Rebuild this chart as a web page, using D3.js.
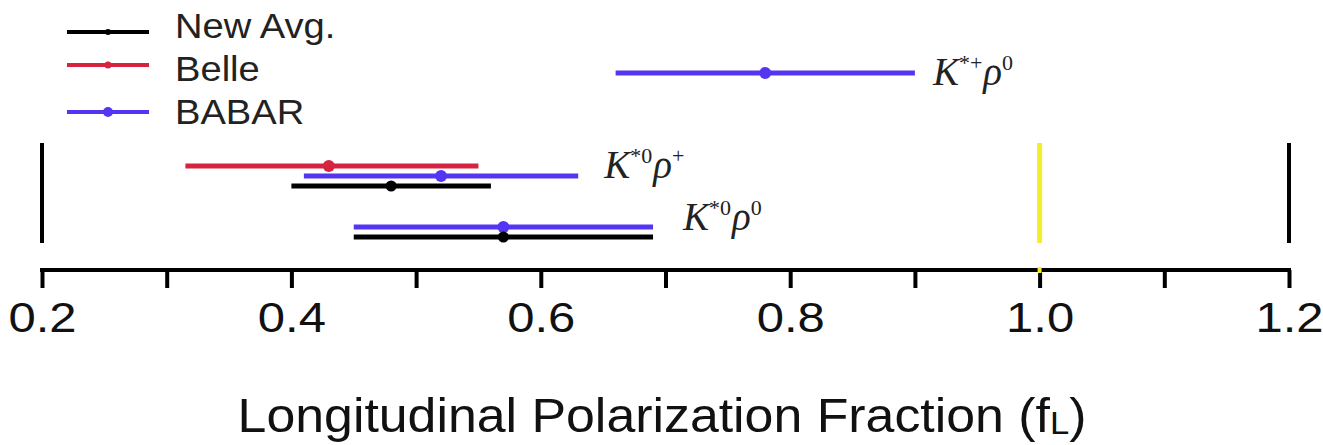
<!DOCTYPE html>
<html><head><meta charset="utf-8">
<script src="https://cdn.jsdelivr.net/npm/d3@7"></script>
<style>body{margin:0;background:#fff}svg{display:block}</style></head>
<body><svg id="c" width="1323" height="445"></svg>
<script>
// ---------- data ----------
const seriesNames = ["New Avg.", "Belle", "BABAR"];
const seriesColors = ["#000000", "#d6233f", "#5535f2"];
const channels = ["K*+ρ0", "K*0ρ+", "K*0ρ0"];
const babarValues = [0.78, 0.52, 0.57];
const babarErrLo  = [0.12, 0.11, 0.12];
const babarErrHi  = [0.12, 0.11, 0.12];
const belleValues = [null, 0.43, null];
const belleErrLo  = [null, 0.115, null];
const belleErrHi  = [null, 0.12, null];
const avgValues   = [null, 0.48, 0.57];
const avgErrLo    = [null, 0.08, 0.12];
const avgErrHi    = [null, 0.08, 0.12];
const xDomain = [0.2, 1.2];
const xTicks = [0.2, 0.3, 0.4, 0.5, 0.6, 0.7, 0.8, 0.9, 1.0, 1.1, 1.2];
const xTickLabels = ["0.2", "0.4", "0.6", "0.8", "1.0", "1.2"];
const refValue = 1.0;
const axisTitle = "Longitudinal Polarization Fraction (f";
const axisTitleSub = "L";

// ---------- layout ----------
const svg = d3.select("#c");
const x = d3.scaleLinear().domain(xDomain).range([42, 1289]);
const channelY = d3.scaleOrdinal().domain(channels).range([73, 176, 232]);
const rowGap = 10;
const sans = "'Liberation Sans', Arial, Helvetica, sans-serif";
const serif = "'Liberation Serif', 'DejaVu Serif', serif";

// measurement rows (top to bottom inside a channel: Belle, BABAR, New Avg.)
const rows = [];
channels.forEach((c, i) => {
  const present = [];
  if (belleValues[i] != null) present.push({s: 1, v: belleValues[i], lo: belleErrLo[i], hi: belleErrHi[i]});
  if (babarValues[i] != null) present.push({s: 2, v: babarValues[i], lo: babarErrLo[i], hi: babarErrHi[i]});
  if (avgValues[i] != null) present.push({s: 0, v: avgValues[i], lo: avgErrLo[i], hi: avgErrHi[i]});
  const n = present.length;
  present.forEach((p, k) => {
    p.c = c;
    p.y = channelY(c) + (k - (n - 1) / 2) * rowGap;
    rows.push(p);
  });
});

// vertical black bars at domain ends
svg.append("g").selectAll("line").data(xDomain).join("line")
  .attr("x1", d => x(d)).attr("x2", d => x(d))
  .attr("y1", 143).attr("y2", 243)
  .attr("stroke", "#000").attr("stroke-width", 4);

// reference line at 1.0
svg.append("line")
  .attr("x1", x(refValue)).attr("x2", x(refValue))
  .attr("y1", 143).attr("y2", 243)
  .attr("stroke", "#f4ee2a").attr("stroke-width", 5);

// axis
const axisY = 270;
const axis = d3.axisBottom(x).tickValues(xTicks).tickSize(18)
  .tickFormat(d => { const s = d3.format(".1f")(d); return xTickLabels.includes(s) ? s : ""; });
const gAxis = svg.append("g").attr("transform", `translate(0,${axisY})`).call(axis);
gAxis.select(".domain").attr("stroke", "#000").attr("stroke-width", 4)
  .attr("d", `M${x(xDomain[0]) - 2},0H${x(xDomain[1]) + 2}`);
gAxis.selectAll(".tick line").attr("stroke", "#000").attr("stroke-width", 4);
gAxis.selectAll(".tick text")
  .attr("font-family", sans).attr("font-size", 43).attr("fill", "#111")
  .attr("y", null).attr("dy", null)
  .attr("transform", `translate(0,62) scale(1.14,1)`);
svg.append("line").attr("x1", x(refValue)).attr("x2", x(refValue))
  .attr("y1", axisY - 3).attr("y2", axisY + 3).attr("stroke", "#f4ee2a").attr("stroke-width", 4);

// axis title
const title = svg.append("text")
  .attr("transform", `translate(662,432) scale(1.08,1)`)
  .attr("text-anchor", "middle").attr("font-family", sans).attr("font-size", 48).attr("fill", "#111");
title.append("tspan").text(axisTitle);
title.append("tspan").attr("font-size", 32).attr("dy", 2).text(axisTitleSub);
title.append("tspan").attr("dy", -2).text(")");

// error bars and central values
const gm = svg.append("g");
gm.selectAll("line").data(rows).join("line")
  .attr("x1", d => x(d.v - d.lo)).attr("x2", d => x(d.v + d.hi))
  .attr("y1", d => d.y).attr("y2", d => d.y)
  .attr("stroke", d => seriesColors[d.s]).attr("stroke-width", 5);
gm.selectAll("circle").data(rows).join("circle")
  .attr("cx", d => x(d.v)).attr("cy", d => d.y)
  .attr("r", d => d.s === 0 ? 5.5 : 6)
  .attr("fill", d => seriesColors[d.s]);

// channel labels
const labelParts = {
  "K*+ρ0": [["K", ""], ["*+", "sup"], ["ρ", ""], ["0", "sup"]],
  "K*0ρ+": [["K", ""], ["*0", "sup"], ["ρ", ""], ["+", "sup"]],
  "K*0ρ0": [["K", ""], ["*0", "sup"], ["ρ", ""], ["0", "sup"]]
};
const labelDy = {"K*+ρ0": 12, "K*0ρ+": 2, "K*0ρ0": -2};
const labelDx = {"K*+ρ0": 18, "K*0ρ+": 26, "K*0ρ0": 30};
channels.forEach(c => {
  const ends = rows.filter(r => r.c === c).map(r => x(r.v + r.hi));
  const lx = d3.max(ends) + labelDx[c];
  const t = svg.append("text")
    .attr("transform", `translate(${lx},${channelY(c) + labelDy[c]})`)
    .attr("font-family", serif).attr("font-style", "italic").attr("font-size", 39).attr("fill", "#222");
  let sup = false;
  labelParts[c].forEach(p => {
    const ts = t.append("tspan").text(p[0]);
    if (p[1] === "sup") { ts.attr("font-size", 22).attr("font-style", "normal").attr("dy", -15); sup = true; }
    else if (sup) { ts.attr("dy", 15).attr("dx", 1); sup = false; }
  });
});

// legend
const legY = [32, 65, 112];
const legTextY = [38, 81, 124];
const legR = [3, 3.5, 5];
const lg = svg.append("g");
seriesNames.forEach((name, i) => {
  lg.append("line").attr("x1", 67).attr("x2", 149).attr("y1", legY[i]).attr("y2", legY[i])
    .attr("stroke", seriesColors[i]).attr("stroke-width", 4);
  lg.append("circle").attr("cx", 108).attr("cy", legY[i]).attr("r", legR[i]).attr("fill", seriesColors[i]);
  lg.append("text").attr("transform", `translate(175,${legTextY[i]}) scale(1.09,1)`)
    .attr("font-family", sans).attr("font-size", 35).attr("fill", "#222").text(name);
});
</script></body></html>
